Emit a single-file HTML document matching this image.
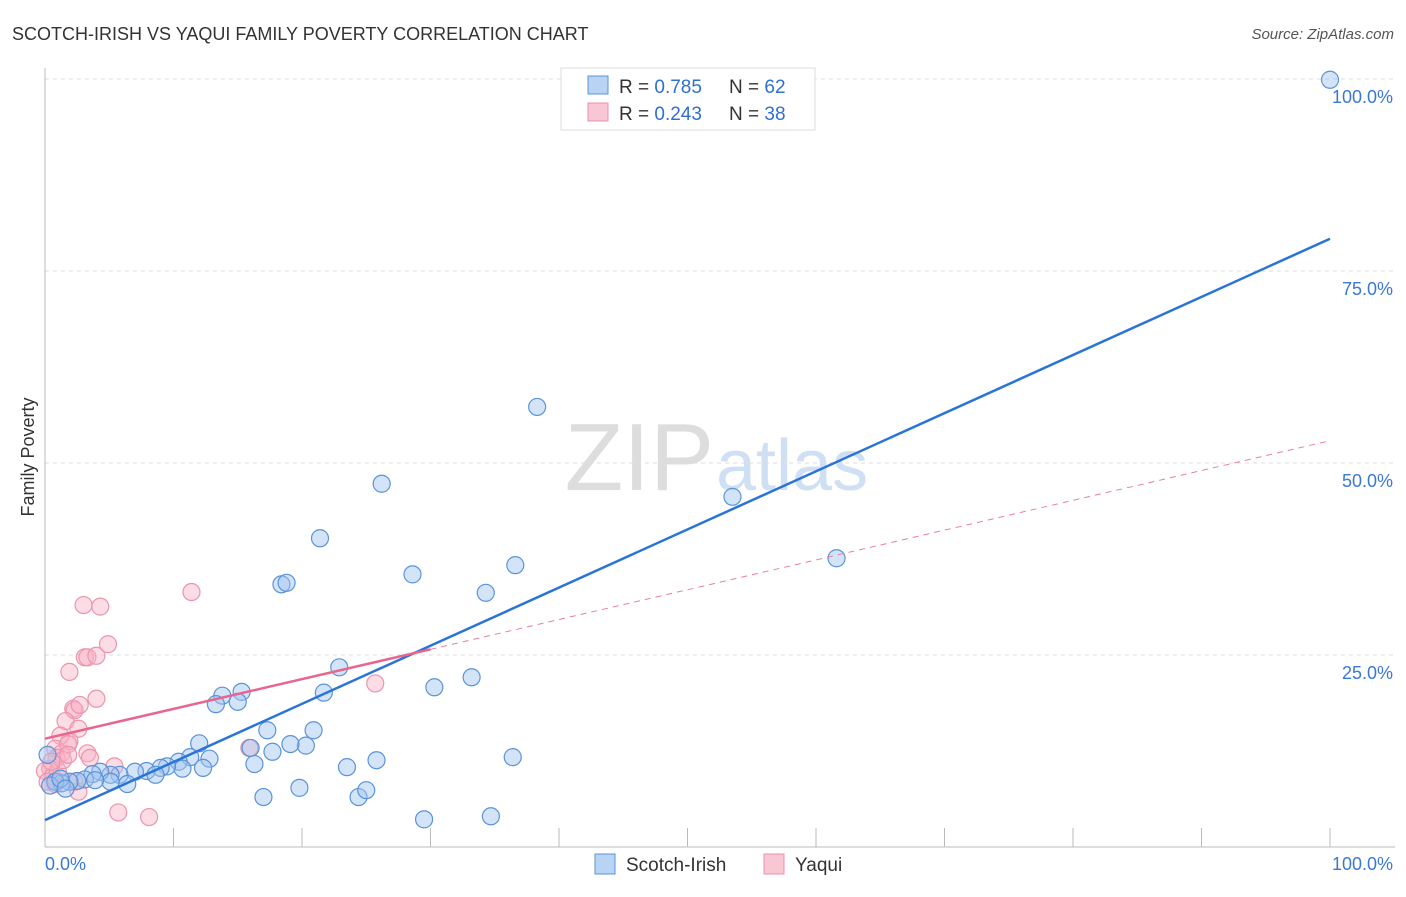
<!DOCTYPE html>
<html><head><meta charset="utf-8"><style>
body{margin:0;background:#fff;font-family:"Liberation Sans",sans-serif;}
svg text{font-family:"Liberation Sans",sans-serif;}
</style></head><body>
<svg id="c" width="1406" height="892">
<text x="12" y="40" font-size="18" fill="#333">SCOTCH-IRISH VS YAQUI FAMILY POVERTY CORRELATION CHART</text>
<text x="1394" y="39" font-size="15" fill="#555" font-style="italic" text-anchor="end">Source: ZipAtlas.com</text>
<text x="34" y="457" font-size="18" fill="#333" transform="rotate(-90 34 457)" text-anchor="middle">Family Poverty</text>
<text x="714" y="490" font-size="96" fill="#ddd" text-anchor="end" font-family="Liberation Serif">ZIP</text>
<text x="716" y="490" font-size="72" fill="#cfe0f4">atlas</text>
<g id="grid"></g><g id="pts"></g><g id="lines"></g>
<g>
<rect x="561" y="68" width="254" height="62" fill="#fff" stroke="#ddd"/>
<rect x="588" y="76" width="20" height="18" fill="#b8d3f4" stroke="#5b93d8"/>
<rect x="588" y="103" width="20" height="18" fill="#f9c6d4" stroke="#e890a8"/>
<text x="619" y="93" font-size="19" fill="#333">R = <tspan fill="#2f6fcf">0.785</tspan><tspan x="729">N = </tspan><tspan fill="#2f6fcf">62</tspan></text>
<text x="619" y="120" font-size="19" fill="#333">R = <tspan fill="#2f6fcf">0.243</tspan><tspan x="729">N = </tspan><tspan fill="#2f6fcf">38</tspan></text>
</g>
<g>
<rect x="595" y="854" width="20" height="20" fill="#b8d3f4" stroke="#5b93d8"/>
<text x="626" y="871" font-size="19" fill="#333">Scotch-Irish</text>
<rect x="764" y="854" width="20" height="20" fill="#f9c6d4" stroke="#e890a8"/>
<text x="795" y="871" font-size="19" fill="#333">Yaqui</text>
</g>
</svg>
<script>
const yTicks=[25,50,75,100];
const yTickLabels=["25.0%","50.0%","75.0%","100.0%"];
const xTicks=[0,10,20,30,40,50,60,70,80,90,100];
const blueX=[100,38.3,26.2,53.5,61.6,21.4,18.4,18.8,28.6,36.6,34.3,22.9,30.3,33.2,21.7,15.3,13.8,13.3,15,17.3,20.9,20.3,19.1,16,17.7,12,16.3,12.8,11.3,10.4,10.7,12.3,9.5,9,7.9,8.6,7,5.8,5.1,4.3,3.7,3.1,2.5,1.9,1.3,0.8,0.4,1.2,6.4,5.1,3.9,23.5,25.8,36.4,17.0,19.8,24.4,25,29.5,34.7,0.2,1.6];
const blueY=[99.9,57.3,47.3,45.6,37.6,40.2,34.2,34.4,35.5,36.7,33.1,23.4,20.8,22.1,20.1,20.2,19.7,18.6,18.9,15.2,15.2,13.2,13.4,12.9,12.4,13.5,10.8,11.5,11.7,11.1,10.2,10.3,10.5,10.3,9.9,9.4,9.8,9.4,9.4,9.8,9.5,8.8,8.6,8.5,8.3,8.5,8,8.9,8.2,8.5,8.7,10.4,11.3,11.7,6.5,7.7,6.5,7.4,3.6,4.0,12,7.6];
const pinkX=[3,4.3,11.4,4.9,3.1,3.3,4,1.9,4,2.2,2.3,2.7,1.6,2.6,1.9,1.2,0.8,1.3,3.3,3.5,5.4,0.9,0.4,0,0.6,1,0.2,0.8,2.3,2.6,5.7,8.1,15.9,25.7,1.8,1.4,1.8,0.5];
const pinkY=[31.5,31.3,33.2,26.4,24.7,24.7,24.9,22.8,19.3,18,17.8,18.5,16.4,15.4,13.8,14.5,12.8,12.2,12.2,11.6,10.5,11.6,10.2,9.9,9.2,9.9,8.5,8.2,8.5,7.2,4.5,3.9,12.9,21.3,13.4,11.3,12,11.1];
const blueLine=[3.5,79.2];
const pinkLine=[14.1,52.9];
const pinkSolidEnd=30;
const X=v=>45+v*12.85, Y=v=>847-v*7.68;
const NS="http://www.w3.org/2000/svg";
function mk(t,a,p){const e=document.createElementNS(NS,t);for(const k in a)e.setAttribute(k,a[k]);p.appendChild(e);return e;}
const grid=document.getElementById('grid');
yTicks.forEach((t,i)=>{
 const l=mk('line',{x1:45,x2:1395,y1:Y(t),y2:Y(t),stroke:'#ddd','stroke-dasharray':'4,4'},grid);
 
 
 const tx=mk('text',{x:1393,y:Y(t)+24,'font-size':18,fill:'#3a78d4','text-anchor':'end'},grid);
 tx.textContent=yTickLabels[i];
 
 
});
mk('line',{x1:45,x2:45,y1:68,y2:847,stroke:'#bbb'},grid);
mk('line',{x1:45,x2:1395,y1:847,y2:847,stroke:'#bbb'},grid);
xTicks.forEach(t=>{
 const l=mk('line',{x1:X(t),x2:X(t),y1:828,y2:847,stroke:'#bbb'},grid);
 
 
});
const a=mk('text',{x:45,y:870,'font-size':18,fill:'#3a78d4'},grid);a.textContent='0.0%';


const b=mk('text',{x:1393,y:870,'font-size':18,fill:'#3a78d4','text-anchor':'end'},grid);b.textContent='100.0%';


const pts=document.getElementById('pts');
pinkX.forEach((v,i)=>{const c=mk('circle',{cx:X(v),cy:Y(pinkY[i]),r:8.5,fill:'rgba(248,178,198,0.45)',stroke:'#eb94ae','stroke-width':1.2},pts);
 
 });
blueX.forEach((v,i)=>{const c=mk('circle',{cx:X(v),cy:Y(blueY[i]),r:8.5,fill:'rgba(160,196,240,0.45)',stroke:'#5b93d8','stroke-width':1.2},pts);
 
 });
const ln=document.getElementById('lines');
const pAt=x=>pinkLine[0]+(pinkLine[1]-pinkLine[0])*x/100;
const l1=mk('line',{x1:X(0),y1:Y(blueLine[0]),x2:X(100),y2:Y(blueLine[1]),stroke:'#2a74d8','stroke-width':2.5},ln);


const l2=mk('line',{x1:X(0),y1:Y(pAt(0)),x2:X(pinkSolidEnd),y2:Y(pAt(pinkSolidEnd)),stroke:'#e8668e','stroke-width':2.5},ln);


const l3=mk('line',{x1:X(pinkSolidEnd),y1:Y(pAt(pinkSolidEnd)),x2:X(100),y2:Y(pAt(100)),stroke:'#e8809e','stroke-width':1,'stroke-dasharray':'6,5'},ln);


</script>
</body></html>
